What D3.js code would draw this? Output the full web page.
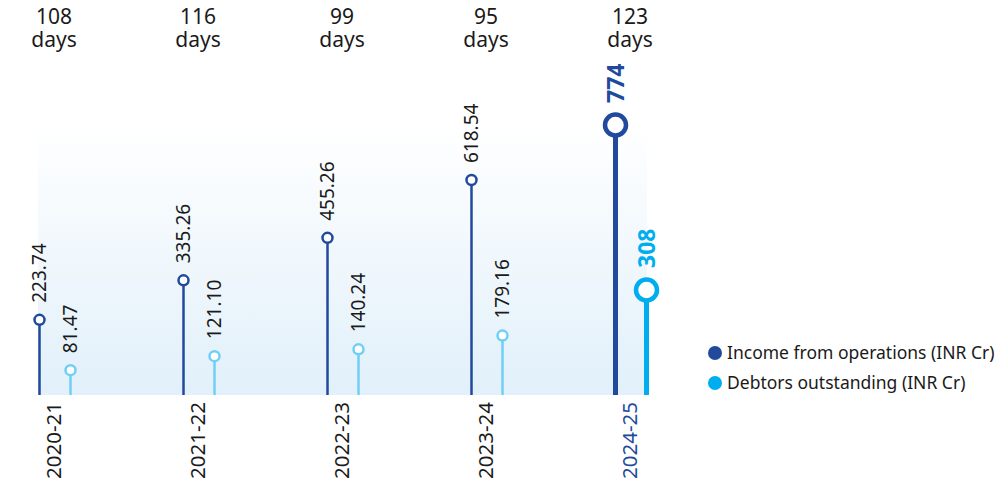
<!DOCTYPE html>
<html lang="en">
<head>
  <meta charset="UTF-8">
  <title>Income vs Debtors</title>
  <script src="https://d3js.org/d3.v7.min.js"></script>
  <style>
    body {
      margin: 0;
      background: #fff;
      font-family: "Noto Sans", sans-serif;
    }
    svg text { fill: #1a1a1a; }
  </style>
</head>
<body>
  <svg width="1001" height="488"></svg>

  <script>
    const years = ['2020-21', '2021-22', '2022-23', '2023-24', '2024-25'];
    const income = [223.74, 335.26, 455.26, 618.54, 774];
    const debtors = [81.47, 121.10, 140.24, 179.16, 308];
    const incomeLabels = ['223.74', '335.26', '455.26', '618.54', '774'];
    const debtorLabels = ['81.47', '121.10', '140.24', '179.16', '308'];
    const days = [108, 116, 99, 95, 123];
    const legendItems = ['Income from operations (INR Cr)', 'Debtors outstanding (INR Cr)'];

    const darkBlue = '#214a9c';
    const lightBlue = '#6fcff4';
    const brightBlue = '#00aeef';

    const svg = d3.select('svg');
    const baseY = 395;
    const lastYear = years[years.length - 1];

    const x = d3.scalePoint().domain(years).range([55, 631]);
    const y = d3.scaleLinear().domain([0, 774]).range([399, 125]);
    const off = 15.5;

    // background panel with vertical gradient
    const grad = svg.append('defs').append('linearGradient')
      .attr('id', 'bg').attr('x1', 0).attr('y1', 0).attr('x2', 0).attr('y2', 1);
    grad.append('stop').attr('offset', '0%').attr('stop-color', '#ffffff');
    grad.append('stop').attr('offset', '100%').attr('stop-color', '#e1f0fa');

    svg.append('rect')
      .attr('x', 38).attr('y', 123)
      .attr('width', 609).attr('height', baseY - 123)
      .attr('fill', 'url(#bg)');

    // days labels at top (two lines in one text)
    const daysText = svg.append('g').attr('font-size', 21).attr('text-anchor', 'middle')
      .selectAll('text').data(days).enter().append('text')
      .attr('y', 24);
    daysText.append('tspan')
      .attr('x', (_, i) => x(years[i]) - 1)
      .text(d => d);
    daysText.append('tspan')
      .attr('x', (_, i) => x(years[i]) - 1)
      .attr('dy', 23)
      .text('days');

    function series(values, labels, dx, color, lastColor) {
      const g = svg.append('g');
      values.forEach((v, i) => {
        const last = years[i] === lastYear;
        const cx = x(years[i]) + dx;
        const cy = y(v);
        const col = last ? lastColor : color;
        g.append('line')
          .attr('x1', cx).attr('x2', cx)
          .attr('y1', baseY).attr('y2', cy)
          .attr('stroke', col)
          .attr('stroke-width', last ? 5 : 2.5);
        g.append('circle')
          .attr('cx', cx).attr('cy', cy)
          .attr('r', last ? 10.5 : 5)
          .attr('fill', '#fff')
          .attr('stroke', col)
          .attr('stroke-width', last ? 4.5 : 2.5);
        const ly = cy - (last ? 22 : 17);
        g.append('text')
          .attr('transform', `translate(${cx},${ly}) rotate(-90)`)
          .attr('dy', '0.36em')
          .attr('font-size', last ? 23 : 19)
          .attr('font-weight', last ? 'bold' : 'normal')
          .style('fill', last ? lastColor : '#1a1a1a')
          .text(labels[i]);
      });
    }

    series(income, incomeLabels, -off, darkBlue, darkBlue);
    series(debtors, debtorLabels, off, lightBlue, brightBlue);

    // year labels
    svg.append('g').selectAll('text').data(years).enter().append('text')
      .attr('transform', d => `translate(${x(d) - 1},402) rotate(-90)`)
      .attr('text-anchor', 'end')
      .attr('dy', '0.36em')
      .attr('font-size', 20.5)
      .style('fill', d => d === lastYear ? darkBlue : '#1a1a1a')
      .text(d => d);

    // legend
    const legendColors = [darkBlue, brightBlue];
    const legend = svg.append('g');
    legendItems.forEach((t, i) => {
      const ly = 353 + i * 30;
      legend.append('circle')
        .attr('cx', 715).attr('cy', ly).attr('r', 7)
        .attr('fill', legendColors[i]);
      legend.append('text')
        .attr('x', 727).attr('y', ly)
        .attr('dy', '0.35em')
        .attr('font-size', 17.5)
        .text(t);
    });
  </script>
</body>
</html>
